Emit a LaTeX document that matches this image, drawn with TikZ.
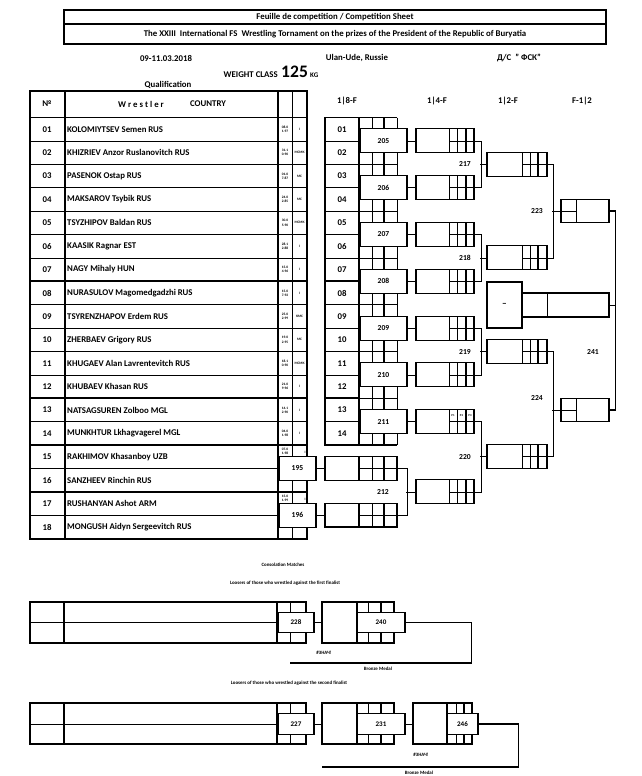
\documentclass[tikz,border=0pt]{standalone}
\usepackage{fontspec}
\setmainfont{Carlito}
\usetikzlibrary{positioning, calc}

\newcommand{\fsz}[2]{\fontsize{#1}{#2}\selectfont\bfseries}

\begin{document}
\begin{tikzpicture}[
  x=0.03cm, y=-0.03cm,
  thinl/.style={line width=0.6pt},
  thickl/.style={line width=1.4pt},
  txt/.style={inner sep=0pt, font=\fsz{7.5}{9}},
  lab/.style={inner sep=0pt, font=\fsz{6.5}{8}},
  small/.style={inner sep=0pt, font=\fsz{4.2}{5}},
  tiny/.style={inner sep=0pt, font=\fsz{3}{3.6}, align=center},
  mbox/.style={draw, line width=0.9pt, fill=white, inner sep=0pt,
    minimum width=1.41cm, minimum height=0.72cm, font=\fsz{6.5}{8}},
  fbox/.style={draw, line width=1.1pt, inner sep=0pt,
    minimum width=2.16cm, minimum height=0.70cm},
  qbox/.style={draw, line width=0.9pt, inner sep=0pt,
    minimum width=1.74cm, minimum height=0.72cm},
  sbox/.style={draw, line width=0.9pt, inner sep=0pt,
    minimum width=1.80cm, minimum height=0.72cm},
  gbox/.style={draw, line width=0.9pt, inner sep=0pt,
    minimum width=1.44cm, minimum height=0.70cm},
  cbox/.style={draw, line width=0.9pt, fill=white, inner sep=0pt,
    minimum height=0.62cm, font=\fsz{6}{7}},
]
\useasboundingbox (0,0) rectangle (642,776);

% heading
\draw[thickl] (64,10) rectangle (606,44);
\draw[thickl] (64,24) -- (606,24);
\node[txt] (hd1) at (335,17) {Feuille de competition / Competition Sheet};
\node[txt] (hd2) at (335,34) {The XXIII\ \ International FS\ \ Wrestling Tornament on the prizes of the President of the Republic of Buryatia};

\node[txt] (date) at (166,58) {09-11.03.2018};
\node[txt] (city) at (357,58) {Ulan-Ude, Russie};
\node[txt] (hall) at (519,58) {Д/С\ \ " ФСК"};
\node[txt, anchor=base east] (wcls) at (278,77) {WEIGHT CLASS};
\node[inner sep=0pt, font=\fsz{15}{17}, anchor=base west] (wval) at (281,77) {125};
\node[inner sep=0pt, font=\fsz{6}{7}, anchor=base west] (wkg) at (310,77) {KG};
\node[txt] (qual) at (168,85) {Qualification};

% round titles
\node[txt] (h18) at (347,101) {1|8-F};
\node[txt] (h14) at (437,101) {1|4-F};
\node[txt] (h12) at (508,101) {1|2-F};
\node[txt] (hfi) at (582,101) {F-1|2};

% wrestler table
\draw[thickl] (30,91) rectangle (307,538.7);
\draw[thickl] (30,117.5) -- (307,117.5);
\draw[thickl] (65,91) -- (65,538.7) (278,91) -- (278,538.7);
\draw[thinl] (292,91) -- (292,538.7);
\foreach \k in {1,...,17}
  \draw[thinl] (30,{117.5+\k*23.4}) -- (307,{117.5+\k*23.4});
\foreach \k in {5,7,12,14,16}
  \draw[thickl] (30,{117.5+\k*23.4}) -- (307,{117.5+\k*23.4});

\node[txt] (hno) at (47,104) {№};
\node[txt] (hwr) at (141,104) {W r e s t l e r};
\node[txt] (hco) at (208,104) {COUNTRY};

\foreach \nm [count=\i] in {KOLOMIYTSEV Semen RUS, KHIZRIEV Anzor Ruslanovitch RUS,
  PASENOK Ostap RUS, MAKSAROV Tsybik RUS, TSYZHIPOV Baldan RUS, KAASIK Ragnar EST,
  NAGY Mihaly HUN, NURASULOV Magomedgadzhi RUS, TSYRENZHAPOV Erdem RUS,
  ZHERBAEV Grigory RUS, KHUGAEV Alan Lavrentevitch RUS, KHUBAEV Khasan RUS,
  NATSAGSUREN Zolboo MGL, MUNKHTUR Lkhagvagerel MGL, RAKHIMOV Khasanboy UZB,
  SANZHEEV Rinchin RUS, RUSHANYAN Ashot ARM, MONGUSH Aidyn Sergeevitch RUS} {
  \pgfmathsetmacro\yc{105.8+23.4*\i}
  \node[txt] (n\i) at (47,\yc) {\ifnum\i<10 0\fi\i};
  \node[txt, anchor=west] (w\i) at (67,\yc) {\nm};
}

% ranks
\foreach \i/\ra/\rb/\rc in {1/08.0/1.97/I, 2/31.1/0.90/МСМК, 3/01.0/7.87/МС,
  4/24.0/2.85/МС, 5/30.0/5.90/МСМК, 6/28.1/2.88/I, 7/15.0/4.96/I, 8/15.0/7.92/I,
  9/25.0/2.99/КМС, 10/19.0/2.95/МС, 11/18.1/0.90/МСМК, 12/21.0/9.96/I,
  13/14.1/2.90/I, 14/04.0/1.98/I} {
  \pgfmathsetmacro\yc{105.8+23.4*\i}
  \node[tiny] (ra\i) at (285,\yc) {\ra\\\rb};
  \node[tiny] (rc\i) at (299.5,\yc) {\rc};
}
\node[tiny] (ra15) at (285,451.5) {07.0\\1.98};
\node[tiny] (rc15) at (305,452) {I};
\node[tiny] (ra17) at (285,498.3) {15.0\\1.99};
\node[tiny] (rc17) at (305,499) {I};

% 1/8 column
\draw[thickl] (325,117.5) rectangle (359,445.1);
\foreach \k in {1,...,13}
  \draw[thinl] (325,{117.5+\k*23.4}) -- (397,{117.5+\k*23.4});
\foreach \k in {5,7,12}
  \draw[thickl] (325,{117.5+\k*23.4}) -- (359,{117.5+\k*23.4});
\draw[thickl] (359,117.5) -- (397,117.5) (359,445.1) -- (397,445.1)
  (384,117.5) -- (384,445.1);
\draw[thinl] (372,117.5) -- (372,445.1) (397,117.5) -- (397,445.1);
\foreach \i in {1,...,14} {
  \pgfmathsetmacro\yc{105.8+23.4*\i}
  \node[txt] (s\i) at (342,\yc) {\ifnum\i<10 0\fi\i};
}
\foreach \m/\yy in {205/140.9, 206/187.7, 207/234.5, 208/281.3,
  209/328.1, 210/374.9, 211/421.7}
  \node[mbox] (m\m) at (383.5,\yy) {\m};

% qualification bouts
\node[mbox, minimum width=1.11cm] (m195) at (297.5,468.5) {195};
\node[mbox, minimum width=1.11cm] (m196) at (297.5,515.3) {196};
\foreach \m/\yy in {195/468.5, 196/515.3} {
  \node[fbox] (f\m) at (361,\yy) {};
  \draw[thickl] (359,\yy-11.7) -- (359,\yy+11.7) (384,\yy-11.7) -- (384,\yy+11.7);
  \draw[thinl] (372,\yy-11.7) -- (372,\yy+11.7) (359,\yy) -- (397,\yy);
  \draw[thinl] (m\m.east) -- (f\m.west);
}

% 1/4 column
\foreach \j/\yy in {1/140.9, 2/187.7, 3/234.5, 4/281.3, 5/328.1,
  6/374.9, 7/421.7, 8/491.9} {
  \node[qbox] (qf\j) at (445,\yy) {};
  \draw[thinl] (449,\yy-12) -- (449,\yy+12) (457,\yy-12) -- (457,\yy+12)
    (449,\yy) -- (474,\yy);
  \draw[thickl] (466,\yy-12) -- (466,\yy+12);
}
\foreach \m/\j in {205/1, 206/2, 207/3, 208/4, 209/5, 210/6, 211/7}
  \draw[thinl] (m\m.east) -- (qf\j.west);
\node[inner sep=0pt, font=\fsz{2.5}{3}] (p1) at (453,416) {P1};
\node[inner sep=0pt, font=\fsz{2.5}{3}] (p2) at (461.5,416) {P2};
\node[inner sep=0pt, font=\fsz{2.5}{3}] (p3) at (470,416) {P3};

\draw[thinl] (f195.east) -- ++(10,0) |- (f196.east);
\draw[thinl] (qf8.west) -- ++(-9,0);
\node[lab] (l212) at (383,492) {212};

% 1/2 column
\foreach \j/\yy in {1/164.3, 2/257.9, 3/351.5, 4/456.8} {
  \node[sbox] (sf\j) at (517,\yy) {};
  \draw[thinl] (522,\yy-12) -- (522,\yy+12) (530,\yy-12) -- (530,\yy+12)
    (522,\yy) -- (547,\yy);
  \draw[thickl] (538,\yy-12) -- (538,\yy+12);
}
\draw[thinl] (qf1.east) -- ++(7,0) |- (qf2.east);
\draw[thinl] (qf3.east) -- ++(7,0) |- (qf4.east);
\draw[thinl] (qf5.east) -- ++(7,0) |- (qf6.east);
\draw[thinl] (qf7.east) -- ++(7,0) |- (qf8.east);
\foreach \j in {1,...,4}
  \draw[thinl] (sf\j.west) -- ++(-6,0);
\node[lab] (l217) at (465,164.3) {217};
\node[lab] (l218) at (465,257.9) {218};
\node[lab] (l219) at (465,351.5) {219};
\node[lab] (l220) at (465,456.8) {220};

% final
\node[gbox] (fin1) at (585,211.1) {};
\node[gbox] (fin2) at (585,410) {};
\foreach \yy in {211.1, 410}
  \draw[thinl] (576,\yy-11.7) -- (576,\yy+11.7) (561,\yy) -- (576,\yy);
\draw[thinl] (sf1.east) -- ++(6,0) |- (sf2.east);
\draw[thinl] (sf3.east) -- ++(6,0) |- (sf4.east);
\draw[thinl] (fin1.west) -- ++(-8,0);
\draw[thinl] (fin2.west) -- ++(-8,0);
\node[lab] (l223) at (537,211.1) {223};
\node[lab] (l224) at (537,398) {224};

\node[draw, line width=0.9pt, inner sep=0pt, minimum width=1.05cm,
      minimum height=1.38cm, font=\fsz{8}{9}] (dashb) at (504.5,305) {--};
\node[draw, line width=0.9pt, inner sep=0pt, minimum width=2.61cm,
      minimum height=0.72cm] (winb) at (565.5,305) {};
\draw[thinl] (547,293) -- (547,317);
\draw[thickl] (fin1.east) -- ++(6,0) |- (fin2.east);
\draw[thinl] (winb.east) -- ++(6,0);
\node[lab] (l241) at (593,352) {241};

% consolation
\node[small] (ttc) at (283,565) {Consolation Matches};
\node[small] (tt1) at (285,583) {Loosers of those who wrestled against the first finalist};
\node[small] (tt2) at (289,683) {Loosers of those who wrestled against the second finalist};

\foreach \yt/\ym in {602/622.5, 703/724} {
  \draw[thickl] (30,\yt) rectangle (306,\yt+41);
  \draw[thickl] (64,\yt) -- (64,\yt+41) (277,\yt) -- (277,\yt+41);
  \draw[thinl] (290,\yt) -- (290,\yt+41) (30,\ym) -- (306,\ym);
  \draw[thickl] (322,\yt) rectangle (394,\yt+41);
  \draw[thickl] (357,\yt) -- (357,\yt+41) (381,\yt) -- (381,\yt+41);
  \draw[thinl] (368,\yt) -- (368,\yt+41);
}
\node[cbox, minimum width=1.08cm] (c228) at (296,622.5) {228};
\node[draw=none, inner sep=0pt, minimum width=2.16cm, minimum height=1.23cm] (cr1) at (358,622.5) {};
\node[cbox, minimum width=1.44cm] (c240) at (381,622.5) {240};
\draw[thinl] (c228.east) -- (cr1.west);
\coordinate (cb1) at (290,663);
\draw[thickl] (c240.east) -- ++(66,0) |- (cb1);
\node[small] (zn1) at (324,653) {\#ЗНАЧ!};
\node[small] (bm1) at (378,669) {Bronze Medal};

\node[cbox, minimum width=1.08cm] (c227) at (296,724) {227};
\node[draw=none, inner sep=0pt, minimum width=2.16cm, minimum height=1.23cm] (cr2) at (358,724) {};
\node[cbox, minimum width=1.44cm] (c231) at (381,724) {231};
\draw[thickl] (413,703) rectangle (472,744);
\draw[thickl] (447,703) -- (447,744) (464,703) -- (464,744);
\draw[thinl] (456,703) -- (456,744);
\node[draw=none, inner sep=0pt, minimum width=1.77cm, minimum height=1.23cm] (cr3) at (442.5,724) {};
\node[cbox, minimum width=0.93cm] (c246) at (462.5,724) {246};
\draw[thinl] (c227.east) -- (cr2.west);
\draw[thinl] (c231.east) -- (cr3.west);
\coordinate (cb2) at (322,767);
\draw[thickl] (c246.east) -- ++(40,0) |- (cb2);
\node[small] (zn2) at (421,755) {\#ЗНАЧ!};
\node[small] (bm2) at (419,773) {Bronze Medal};

\end{tikzpicture}
\end{document}
